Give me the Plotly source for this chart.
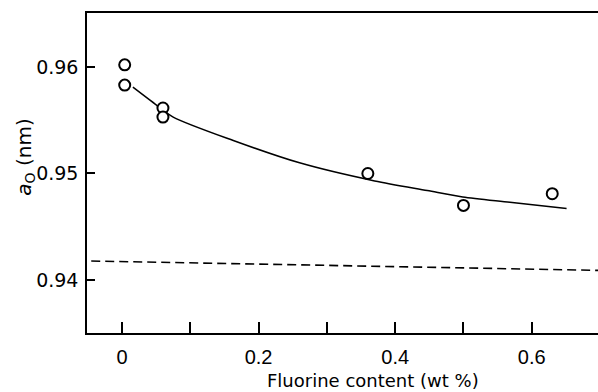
import plotly.graph_objects as go

# Measured lattice parameter against fluorine content
fluorine_wt = [0.004, 0.004, 0.060, 0.060, 0.360, 0.500, 0.630]
lattice_a0 = [0.9602, 0.9583, 0.95615, 0.9553, 0.9500, 0.9470, 0.9481]

# Fitted trend through the measurements
fit_x = [0.016, 0.051, 0.075, 0.163, 0.260, 0.370, 0.447, 0.499, 0.568, 0.651]
fit_y = [0.9581, 0.9564, 0.9553, 0.9531, 0.9510, 0.9493, 0.9484, 0.9478, 0.9473, 0.9467]

# Reference level (dashed)
ref_x = [-0.045, 0.697]
ref_y = [0.94178, 0.9409]

x_tick_vals = [0.0, 0.1, 0.2, 0.3, 0.4, 0.5, 0.6]
x_tick_text = ["0", "", "0.2", "", "0.4", "", "0.6"]
y_tick_vals = [0.94, 0.95, 0.96]
y_tick_text = ["0.94", "0.95", "0.96"]

fig = go.Figure()

fig.add_trace(go.Scatter(
    x=ref_x, y=ref_y, mode="lines",
    line=dict(color="black", width=1.6, dash="9px,5px"),
    hoverinfo="skip", showlegend=False,
))
fig.add_trace(go.Scatter(
    x=fit_x, y=fit_y, mode="lines",
    line=dict(color="black", width=1.5, shape="spline", smoothing=0.8),
    hoverinfo="skip", showlegend=False,
))
fig.add_trace(go.Scatter(
    x=fluorine_wt, y=lattice_a0, mode="markers",
    marker=dict(symbol="circle", size=11, color="white",
                line=dict(color="black", width=2)),
    showlegend=False,
))

fig.update_layout(
    width=598, height=392,
    margin=dict(l=87, r=0, t=13, b=59),
    paper_bgcolor="white", plot_bgcolor="white",
    font=dict(family="DejaVu Sans", color="black"),
    xaxis=dict(
        range=[-0.0512, 0.697],
        showgrid=False, zeroline=False,
        showline=True, linecolor="black", linewidth=2, mirror=True,
        ticks="inside", ticklen=11, tickwidth=1.5, tickcolor="black",
        tickvals=x_tick_vals, ticktext=x_tick_text,
        tickfont=dict(family="Liberation Sans Narrow, Liberation Sans", size=20, color="black"),
        ticklabelstandoff=5,
    ),
    yaxis=dict(
        range=[0.93502, 0.96507],
        showgrid=False, zeroline=False,
        showline=True, linecolor="black", linewidth=1.5,
        ticks="inside", ticklen=8, tickwidth=1.5, tickcolor="black",
        tickvals=y_tick_vals, ticktext=y_tick_text,
        tickfont=dict(family="DejaVu Sans", size=19, color="black"),
        ticklabelstandoff=3,
    ),
    annotations=[
        dict(text="Fluorine content (wt %)", xref="x", yref="paper",
             x=0.368, y=-0.147, showarrow=False,
             font=dict(family="DejaVu Sans", size=18, color="black"),
             xanchor="center", yanchor="middle"),
        dict(text="<i>a</i><sub>O</sub> (nm)", xref="paper", yref="paper",
             x=-0.122, y=0.55, textangle=-90, showarrow=False,
             font=dict(family="DejaVu Sans", size=20, color="black"),
             xanchor="center", yanchor="middle"),
    ],
)

fig.write_html("out.html")
